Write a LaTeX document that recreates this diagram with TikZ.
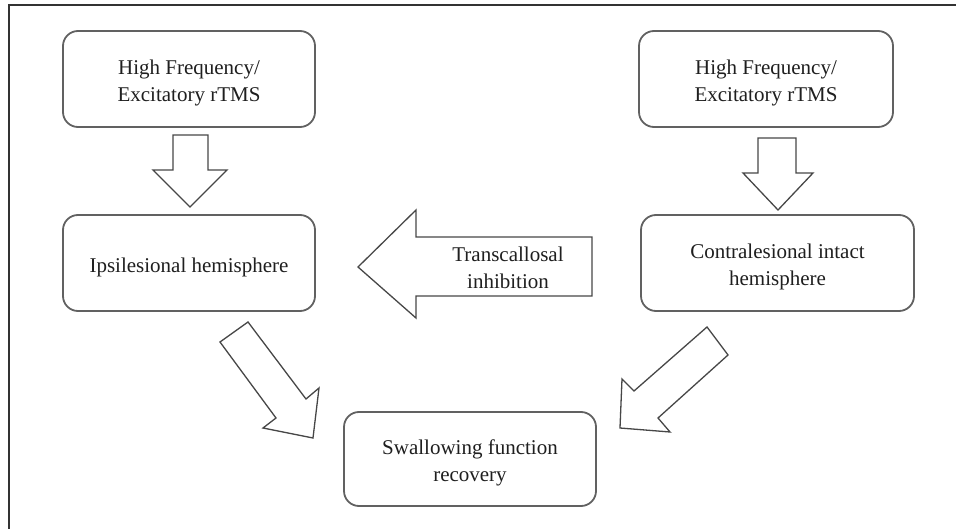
\documentclass[tikz,border=0pt]{standalone}
\usepackage{fontspec}
\setmainfont{Liberation Serif}
\begin{document}
\begin{tikzpicture}[x=1pt,y=-1pt,
  txt/.style={align=center, font=\fontsize{21}{27}\selectfont, text=black!88, inner sep=0pt},
  box/.style={draw=black!62, line width=1.8pt, rounded corners=15pt, fill=white, inner sep=0pt,
    label={[txt, yshift=-4pt]center:#1}},
  blockarrow/.style={draw=black!72, line width=1.3pt, fill=white, line join=miter}]
\useasboundingbox (0,0) rectangle (956,529);
% partial outer frame
\draw[black!80, line width=1.6pt] (9,529) -- (9,5) -- (956,5);
% boxes
\node[box={High Frequency/\\Excitatory rTMS}, minimum width=252pt, minimum height=96pt] (hfL) at (189,79) {};
\node[box={High Frequency/\\Excitatory rTMS}, minimum width=254pt, minimum height=96pt] (hfR) at (766,79) {};
\node[box={Ipsilesional hemisphere}, minimum width=252pt, minimum height=96pt] (ipsi) at (189,263) {};
\node[box={Contralesional intact\\hemisphere}, minimum width=273pt, minimum height=96pt] (contra) at (777.5,263) {};
\node[box={Swallowing function\\recovery}, minimum width=252pt, minimum height=94pt] (swal) at (470,459) {};
% down arrows
\draw[blockarrow] (173,135) -- (208,135) -- (208,170) -- (227,170) -- (190,207) -- (153,170) -- (173,170) -- cycle;
\draw[blockarrow] (758,138) -- (796,138) -- (796,173) -- (813,173) -- (778,210) -- (743,173) -- (758,173) -- cycle;
% transcallosal arrow
\draw[blockarrow] (592,237) -- (416,237) -- (416,210) -- (358,267) -- (416,318) -- (416,296) -- (592,296) -- cycle;
\node[txt] (trans) at (508,268) {Transcallosal\\inhibition};
% diagonal arrows
\draw[blockarrow] (248,322) -- (306,399) -- (319,388) -- (313,438) -- (263,428) -- (276,418) -- (220,342) -- cycle;
\draw[blockarrow] (707,327) -- (728,355) -- (658,418) -- (670,432) -- (620,428) -- (622,379) -- (634,391) -- cycle;
\end{tikzpicture}
\end{document}
